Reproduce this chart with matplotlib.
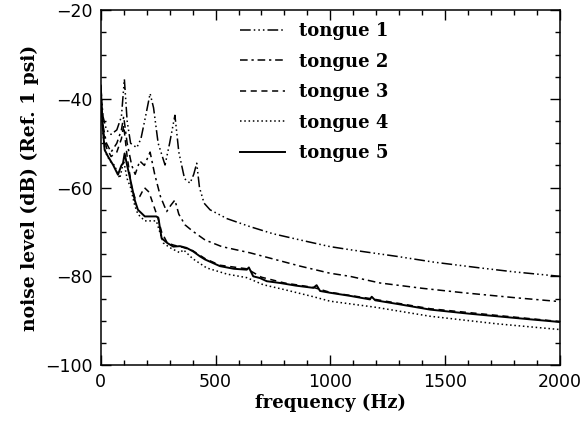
import matplotlib
matplotlib.use('Agg')
import matplotlib.pyplot as plt
from matplotlib.ticker import MultipleLocator

# ── data ─────────────────────────────────────────────────────────────────────
f1 = [0, 10, 25, 45, 70, 90, 103, 115, 130, 157, 175, 195, 215, 230, 250, 280,
      300, 323, 340, 365, 389, 405, 418, 430, 450, 476, 550, 650, 750, 868,
      998, 1085, 1289, 1450, 1651, 1800, 2000]
d1 = [-37, -44, -47, -48, -47, -44, -35.6, -45, -50, -51, -49, -44, -38.8, -42,
      -50, -54.9, -50, -43.7, -52, -58, -59, -57, -54.5, -60, -63.5, -65, -67,
      -68.8, -70.4, -71.8, -73.3, -74, -75.5, -76.8, -78.1, -79, -80]

f2 = [0, 10, 25, 45, 70, 90, 100, 115, 135, 150, 170, 190, 215, 235, 260, 287,
      305, 323, 340, 367, 400, 454, 527, 650, 868, 998, 1085, 1216, 1400, 1579,
      1800, 2000]
d2 = [-38, -46, -50, -52, -50, -47, -44, -50, -55, -57, -54, -55, -52, -57, -62,
      -65.4, -64, -62.8, -66, -68.4, -69.8, -71.8, -73.3, -74.7, -77.7, -79.3,
      -80, -81.5, -82.7, -83.7, -84.8, -85.7]

f3 = [0, 10, 25, 45, 70, 90, 100, 115, 135, 150, 170, 190, 210, 230, 250, 265,
      290, 320, 360, 400, 454, 519, 636, 700, 800, 926, 998, 1172, 1434, 1724,
      2000]
d3 = [-38, -47, -51, -53, -52, -49, -46, -53, -60, -62.5, -62, -60, -61, -64,
      -67, -70, -72.5, -73, -73.5, -74.2, -76, -77.5, -78.3, -80.2, -81.5,
      -82.5, -83.6, -85, -87.3, -88.8, -90.2]

f4 = [0, 10, 20, 40, 60, 83, 100, 115, 130, 148, 162, 192, 242, 257, 273, 300,
      345, 360, 400, 461, 550, 636, 708, 800, 926, 998, 1200, 1434, 1724, 2000]
d4 = [-38, -48, -52, -54, -55, -57.9, -54, -58, -60, -64, -66, -67.5, -67.5,
      -70, -72.5, -73.5, -74.7, -74, -76, -78.1, -79.5, -80.3, -81.9, -83,
      -84.6, -85.6, -87, -89, -90.7, -92]

f5 = [0, 8, 17, 32, 54, 75, 90, 97, 104, 115, 126, 148, 162, 192, 242, 251, 257,
      265, 290, 316, 345, 374, 403, 432, 454, 519, 580, 636, 645, 664, 694, 723,
      781, 850, 926, 940, 955, 998, 1085, 1172, 1180, 1195, 1300, 1434, 1600,
      1724, 1850, 2000]
d5 = [-37, -46, -51.5, -53, -54.9, -57.1, -55, -54.5, -52.3, -55, -57.5, -62.8,
      -65, -66.5, -66.5, -66.8, -68.8, -71.4, -72.5, -73.3, -73.2, -73.6, -74.4,
      -75.5, -76.2, -77.7, -78.3, -78.5, -78.0, -80, -80.4, -81.1, -81.5, -82.1,
      -82.6, -82.0, -83.3, -83.7, -84.4, -85.2, -84.6, -85.4, -86.3, -87.5,
      -88.4, -89, -89.6, -90.3]

labels = ["tongue 1", "tongue 2", "tongue 3", "tongue 4", "tongue 5"]

SERIF = dict(family="DejaVu Serif", fontweight="bold")

fig = plt.figure(figsize=(5.87, 4.23), dpi=100)
ax = fig.add_axes([0.1716, 0.137, 0.7825, 0.839])

ax.plot(f1, d1, color="black", lw=1.1, dashes=(7, 2, 1, 2, 1, 2, 1, 2), label=labels[0])
ax.plot(f2, d2, color="black", lw=1.1, dashes=(5, 2.5, 1.5, 2.5), label=labels[1])
ax.plot(f3, d3, color="black", lw=1.1, dashes=(4, 3), label=labels[2])
ax.plot(f4, d4, color="black", lw=1.1, dashes=(1, 1.8), label=labels[3])
ax.plot(f5, d5, color="black", lw=1.4, label=labels[4])

ax.set_xlim(0, 2000)
ax.set_ylim(-100, -20)
ax.xaxis.set_major_locator(MultipleLocator(500))
ax.xaxis.set_minor_locator(MultipleLocator(100))
ax.yaxis.set_major_locator(MultipleLocator(20))
ax.yaxis.set_minor_locator(MultipleLocator(5))
ax.tick_params(which="both", direction="in", top=True, right=True,
               width=1.0, labelsize=12.5, pad=6)
ax.tick_params(which="major", length=7)
ax.tick_params(which="minor", length=3.5)
for sp in ax.spines.values():
    sp.set_linewidth(1.1)

ax.set_xlabel("frequency (Hz)", fontsize=13, labelpad=2, **SERIF)
ax.set_ylabel("noise level (dB) (Ref. 1 psi)", fontsize=13.5, labelpad=4, **SERIF)

ax.legend(loc="upper left", bbox_to_anchor=(0.303, 0.967), frameon=False,
          borderpad=0, borderaxespad=0, handlelength=2.5, handletextpad=0.8,
          labelspacing=0.7, prop=dict(family="DejaVu Serif", weight="bold", size=13))

fig.savefig("out.png", dpi=100)
